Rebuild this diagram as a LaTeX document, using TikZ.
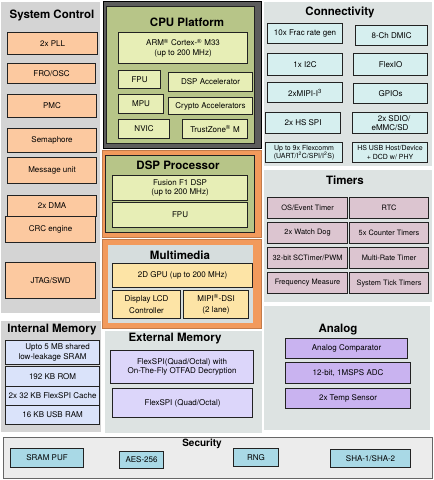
\documentclass[tikz,border=0pt]{standalone}
\usepackage{fontspec}
\setmainfont{TeX Gyre Heros}
\usetikzlibrary{positioning}
\definecolor{sysgray}{HTML}{D4D4D4}
\definecolor{peach}{HTML}{FCC9A0}
\definecolor{cpuouter}{HTML}{5C5C5C}
\definecolor{olive}{HTML}{B7C588}
\definecolor{palegreen}{HTML}{E7EEB6}
\definecolor{orangeb}{HTML}{F29A5C}
\definecolor{mmgray}{HTML}{D6DDDD}
\definecolor{yellowb}{HTML}{FDE4A6}
\definecolor{panelg}{HTML}{DDE3E2}
\definecolor{imblue}{HTML}{DAE3FA}
\definecolor{emlav}{HTML}{DCD6FA}
\definecolor{cyanb}{HTML}{D6EFEF}
\definecolor{mauve}{HTML}{DCC5D0}
\definecolor{purpleb}{HTML}{C9B3F0}
\definecolor{secgray}{HTML}{ECECEC}
\definecolor{secblue}{HTML}{A9D9E6}
\definecolor{edge}{HTML}{222222}
\tikzset{
  every node/.style={font=\fontsize{8}{9.5}\selectfont, inner sep=0pt, align=center, text=black},
  title/.style={font=\fontsize{11.5}{13}\selectfont\bfseries},
  tsmall/.style={font=\fontsize{7.4}{9}\selectfont},
  blk/.style={draw=edge, line width=1.1pt},
}
% \bx{style}{name}{x1}{y1}{x2}{y2}{text}
\newcommand\bx[7]{\node[#1, anchor=north west, minimum width={(#5-#3)*1pt}, minimum height={(#6-#4)*1pt}] (#2) at (#3,#4) {#7};}
\newcommand\pn[6]{\fill[#1] (#3,#4) rectangle (#5,#6) coordinate (#2);}
\begin{document}
\begin{tikzpicture}[x=1pt,y=-1pt]
\useasboundingbox (0,0) rectangle (434,480);
\fill[white] (0,0) rectangle (434,480);
% ---------- System Control
\pn{sysgray}{sc}{1}{2}{100}{313}
\node[title] (sct) at (52,15) {System Control};
\bx{blk,fill=peach}{pll}{7}{32}{97}{54}{2x PLL}
\bx{blk,fill=peach}{fro}{7}{63}{95}{83}{FRO/OSC}
\bx{blk,fill=peach}{pmc}{7}{94}{96}{117}{PMC}
\bx{blk,fill=peach}{sem}{7}{128}{96}{152}{Semaphore}
\bx{blk,fill=peach}{msg}{7}{157}{96}{183}{Message unit}
\bx{blk,fill=peach}{dma}{7}{195}{96}{216}{2x DMA}
\bx{blk,fill=peach}{crc}{5}{216}{95}{242}{CRC engine}
\bx{blk,fill=peach}{jtag}{5}{262}{95}{298}{JTAG/SWD}
% ---------- Internal Memory
\pn{sysgray}{im}{1}{321}{101}{432}
\node[title] (imt) at (52,330) {Internal Memory};
\bx{blk,fill=imblue}{sram}{5}{340}{99}{364}{\hspace*{10pt}Upto 5 MB shared\\low-leakage SRAM}
\bx{blk,fill=imblue}{rom}{5}{366}{99}{386}{192 KB ROM}
\bx{blk,fill=imblue}{cache}{5}{386}{99}{405}{2x 32 KB FlexSPI Cache}
\bx{blk,fill=imblue}{usbram}{5}{405}{99}{424}{16 KB USB RAM}
% ---------- CPU Platform
\fill[cpuouter, draw=black, line width=0.6pt] (103,1) rectangle (261,148);
\fill[olive, draw=edge, line width=0.8pt] (106,6) rectangle (254,143);
\node[title] (cput) at (187,22) {CPU Platform};
\bx{blk,fill=palegreen}{arm}{118}{32}{247}{63}{ARM\textsuperscript{\textregistered} Cortex-\textsuperscript{\textregistered} M33\\(up to 200 MHz)}
\bx{blk,fill=palegreen}{fpu}{118}{70}{160}{88}{FPU}
\bx{blk,fill=palegreen}{dspacc}{168}{72}{252}{91}{DSP Accelerator}
\bx{blk,fill=palegreen}{mpu}{118}{94}{163}{113}{MPU}
\bx{blk,fill=palegreen}{crypto}{168}{97}{252}{114}{Crypto Accelerators}
\bx{blk,fill=palegreen}{nvic}{118}{119}{169}{138}{NVIC}
\bx{blk,fill=palegreen}{tz}{182}{119}{247}{138}{TrustZone\textsuperscript{\textregistered} M}
% ---------- DSP Processor
\fill[orangeb, draw=orangeb!80!black, line width=0.6pt] (102,150) rectangle (261,237);
\fill[olive, draw=edge, line width=0.8pt] (105,155) rectangle (254,232);
\node[title] (dspt) at (178,165) {DSP Processor};
\bx{blk,fill=palegreen}{f1}{112}{175}{247}{200}{Fusion F1 DSP\\(up to 200 MHz)}
\bx{blk,fill=palegreen}{dspfpu}{112}{202}{247}{227}{FPU}
% ---------- Multimedia
\fill[orangeb, draw=orangeb!80!black, line width=0.6pt] (102,239) rectangle (261,328);
\fill[mmgray] (108,245) rectangle (253,323);
\node[title] (mmt) at (180,255) {Multimedia};
\bx{blk,fill=yellowb}{gpu}{112}{263}{252}{287}{2D GPU (up to 200 MHz)}
\bx{blk,fill=yellowb}{lcd}{112}{290}{180}{318}{Display LCD\\[2pt]Controller}
\bx{blk,fill=yellowb}{dsi}{183}{290}{248}{318}{MIPI\textsuperscript{\textregistered}-DSI\\[2pt](2 lane)}
% ---------- External Memory
\pn{panelg}{em}{105}{331}{262}{433}
\node[title] (emt) at (175,339) {External Memory};
\bx{blk,fill=emlav}{otfad}{110}{350}{253}{383}{FlexSPI(Quad/Octal) with\\On-The-Fly OTFAD Decryption}
\bx{blk,fill=emlav}{flexspi}{112}{388}{252}{417}{FlexSPI (Quad/Octal)}
% ---------- Connectivity
\pn{panelg}{cn}{264}{2}{432}{166}
\node[title] (cnt) at (340,12) {Connectivity};
\bx{blk,fill=cyanb}{frac}{267}{23}{342}{43}{10x Frac rate gen}
\bx{blk,fill=cyanb}{dmic}{355}{25}{427}{45}{8-Ch DMIC}
\bx{blk,fill=cyanb}{i2c}{267}{53}{342}{75}{1x I2C}
\bx{blk,fill=cyanb}{flexio}{353}{53}{427}{75}{FlexIO}
\bx{blk,fill=cyanb}{i3c}{267}{82}{342}{102}{2xMIPI-I\textsuperscript{3}}
\bx{blk,fill=cyanb}{gpio}{353}{83}{427}{103}{GPIOs}
\bx{blk,fill=cyanb}{hsspi}{265}{112}{340}{133}{2x HS SPI}
\bx{blk,fill=cyanb}{sdio}{352}{112}{427}{133}{\hspace*{8pt}2x SDIO/\\eMMC/SD}
\bx{blk,fill=cyanb,font=\fontsize{7}{8.5}\selectfont}{flexcomm}{265}{142}{342}{162}{Up to 9x Flexcomm\\(UART/I\textsuperscript{2}C/SPI/I\textsuperscript{2}S)}
\bx{blk,fill=cyanb,font=\fontsize{7}{8.5}\selectfont}{usb}{352}{142}{427}{162}{HS USB Host/Device\\+ DCD w/ PHY}
% ---------- Timers
\pn{panelg}{tm}{264}{170}{432}{302}
\node[title] (tmt) at (345,180) {Timers};
\bx{blk,fill=mauve,tsmall}{os}{267}{197}{347}{218}{OS/Event Timer}
\bx{blk,fill=mauve,tsmall}{rtc}{349}{197}{428}{218}{RTC}
\bx{blk,fill=mauve,tsmall}{wd}{267}{222}{347}{243}{2x Watch Dog}
\bx{blk,fill=mauve,tsmall}{ctr}{349}{222}{428}{243}{5x Counter Timers}
\bx{blk,fill=mauve,tsmall}{sct}{267}{247}{347}{268}{32-bit SCTimer/PWM}
\bx{blk,fill=mauve,tsmall}{mrt}{349}{247}{428}{268}{Multi-Rate Timer}
\bx{blk,fill=mauve,tsmall}{freq}{267}{272}{347}{293}{Frequency Measure}
\bx{blk,fill=mauve,tsmall}{stt}{349}{272}{428}{293}{System Tick Timers}
% ---------- Analog
\pn{panelg}{an}{264}{306}{430}{430}
\node[title] (ant) at (338,330) {Analog};
\bx{blk,fill=purpleb}{acmp}{285}{338}{407}{358}{Analog Comparator}
\bx{blk,fill=purpleb}{adc}{285}{362}{410}{383}{12-bit, 1MSPS ADC}
\bx{blk,fill=purpleb}{temp}{285}{388}{410}{408}{2x Temp Sensor}
% ---------- Security
\fill[secgray, draw=black!60, line width=0.8pt] (3,437) rectangle (432,478);
\node[title, font=\fontsize{10}{12}\selectfont\bfseries] (sect) at (202,444) {Security};
\bx{blk,fill=secblue}{puf}{10}{448}{83}{467}{SRAM PUF}
\bx{blk,fill=secblue}{aes}{119}{451}{163}{468}{AES-256}
\bx{blk,fill=secblue}{rng}{233}{448}{278}{466}{RNG}
\bx{blk,fill=secblue}{sha}{330}{449}{410}{467}{SHA-1/SHA-2}
\end{tikzpicture}
\end{document}
